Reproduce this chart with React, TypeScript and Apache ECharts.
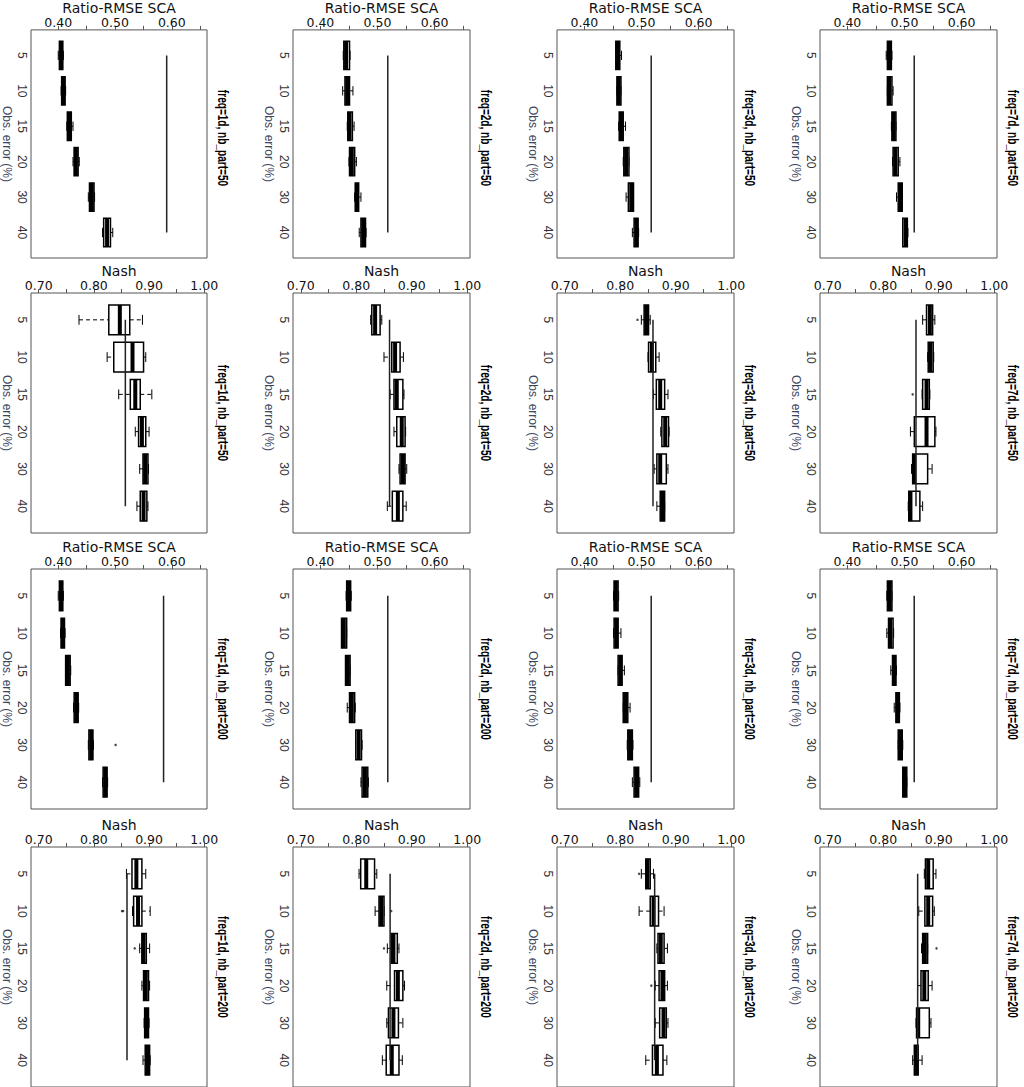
import React, { useEffect, useRef } from "react";
import * as echarts from "echarts";

// ---------- data ----------
const obsErrors = ["5", "10", "15", "20", "30", "40"];
const freqs = ["1d", "2d", "3d", "7d"];
const nbParts = [50, 200];

const rmseTicks = [0.4, 0.45, 0.5, 0.55, 0.6, 0.65];
const rmseTickLabels = [0.4, 0.5, 0.6];
const nashTicks = [0.7, 0.75, 0.8, 0.85, 0.9, 0.95, 1.0];
const nashTickLabels = [0.7, 0.8, 0.9, 1.0];

// each row: [min, Q1, median, Q3, max] for Obs. error 5,10,15,20,30,40
const rmse50_1d = [[0.400, 0.402, 0.405, 0.408, 0.409], [0.405, 0.406, 0.409, 0.412, 0.413], [0.415, 0.416, 0.420, 0.423, 0.426], [0.426, 0.428, 0.431, 0.435, 0.437], [0.453, 0.455, 0.459, 0.463, 0.464], [0.478, 0.480, 0.486, 0.492, 0.496]];
const rmse50_2d = [[0.440, 0.441, 0.445, 0.451, 0.452], [0.439, 0.443, 0.447, 0.451, 0.457], [0.447, 0.448, 0.451, 0.456, 0.459], [0.450, 0.451, 0.455, 0.460, 0.463], [0.460, 0.461, 0.464, 0.467, 0.471], [0.468, 0.471, 0.475, 0.479, 0.480]];
const rmse50_3d = [[0.455, 0.455, 0.458, 0.462, 0.465], [0.457, 0.457, 0.460, 0.464, 0.464], [0.460, 0.461, 0.464, 0.468, 0.472], [0.468, 0.469, 0.473, 0.478, 0.478], [0.473, 0.477, 0.482, 0.486, 0.486], [0.484, 0.487, 0.491, 0.494, 0.495]];
const rmse50_7d = [[0.468, 0.470, 0.474, 0.477, 0.478], [0.470, 0.470, 0.473, 0.478, 0.480], [0.477, 0.478, 0.481, 0.485, 0.485], [0.479, 0.480, 0.484, 0.489, 0.492], [0.486, 0.489, 0.493, 0.496, 0.496], [0.497, 0.497, 0.502, 0.505, 0.506]];
const rmseRef50 = [0.591, 0.518, 0.517, 0.517];

const nash50_1d = [[0.773, 0.827, 0.847, 0.865, 0.888], [0.824, 0.836, 0.870, 0.890, 0.894], [0.845, 0.866, 0.875, 0.884, 0.905], [0.875, 0.881, 0.887, 0.894, 0.900], [0.883, 0.889, 0.893, 0.898, 0.899], [0.878, 0.884, 0.890, 0.896, 0.898]];
const nash50_2d = [[0.826, 0.828, 0.834, 0.843, 0.846], [0.850, 0.864, 0.870, 0.879, 0.885], [0.861, 0.868, 0.873, 0.884, 0.886], [0.868, 0.873, 0.882, 0.888, 0.889], [0.877, 0.879, 0.884, 0.888, 0.891], [0.856, 0.865, 0.875, 0.884, 0.890]];
const nash50_3d = [[0.838, 0.843, 0.847, 0.851, 0.854], [0.850, 0.851, 0.857, 0.864, 0.870], [0.860, 0.865, 0.872, 0.880, 0.886], [0.873, 0.875, 0.881, 0.887, 0.888], [0.861, 0.866, 0.872, 0.883, 0.886], [0.866, 0.872, 0.876, 0.880, 0.880]];
const nash50_7d = [[0.871, 0.878, 0.884, 0.889, 0.893], [0.880, 0.881, 0.885, 0.890, 0.891], [0.870, 0.871, 0.878, 0.883, 0.884], [0.849, 0.856, 0.878, 0.893, 0.895], [0.851, 0.853, 0.856, 0.880, 0.888], [0.845, 0.846, 0.849, 0.866, 0.871]];
const nashRef50 = [0.857, 0.860, 0.859, 0.859];

const rmse200_1d = [[0.400, 0.402, 0.405, 0.408, 0.409], [0.404, 0.405, 0.408, 0.411, 0.412], [0.413, 0.413, 0.417, 0.421, 0.422], [0.427, 0.428, 0.432, 0.435, 0.436], [0.453, 0.454, 0.458, 0.461, 0.462], [0.478, 0.479, 0.483, 0.486, 0.487]];
const rmse200_2d = [[0.445, 0.446, 0.449, 0.453, 0.454], [0.437, 0.437, 0.441, 0.446, 0.446], [0.444, 0.444, 0.448, 0.452, 0.452], [0.447, 0.451, 0.455, 0.460, 0.461], [0.462, 0.462, 0.467, 0.472, 0.473], [0.471, 0.473, 0.478, 0.483, 0.484]];
const rmse200_3d = [[0.451, 0.452, 0.455, 0.459, 0.460], [0.451, 0.452, 0.456, 0.459, 0.464], [0.459, 0.459, 0.463, 0.466, 0.470], [0.468, 0.468, 0.472, 0.476, 0.480], [0.475, 0.476, 0.480, 0.484, 0.485], [0.484, 0.487, 0.491, 0.495, 0.497]];
const rmse200_7d = [[0.469, 0.470, 0.474, 0.478, 0.478], [0.469, 0.472, 0.475, 0.480, 0.481], [0.476, 0.479, 0.482, 0.485, 0.486], [0.482, 0.485, 0.488, 0.491, 0.492], [0.489, 0.489, 0.493, 0.496, 0.497], [0.497, 0.497, 0.500, 0.504, 0.504]];
const rmseRef200 = [0.5855, 0.518, 0.517, 0.517];

const nash200_1d = [[0.859, 0.869, 0.877, 0.887, 0.894], [0.870, 0.872, 0.880, 0.887, 0.902], [0.883, 0.887, 0.890, 0.895, 0.901], [0.887, 0.890, 0.894, 0.899, 0.901], [0.891, 0.892, 0.895, 0.899, 0.900], [0.889, 0.893, 0.897, 0.901, 0.902]];
const nash200_2d = [[0.805, 0.808, 0.818, 0.833, 0.837], [0.834, 0.841, 0.845, 0.850, 0.850], [0.856, 0.863, 0.867, 0.874, 0.877], [0.855, 0.869, 0.875, 0.884, 0.887], [0.855, 0.858, 0.867, 0.876, 0.884], [0.847, 0.854, 0.864, 0.877, 0.883]];
const nash200_3d = [[0.838, 0.846, 0.849, 0.854, 0.860], [0.834, 0.854, 0.860, 0.869, 0.879], [0.866, 0.868, 0.873, 0.879, 0.885], [0.863, 0.870, 0.876, 0.880, 0.885], [0.863, 0.871, 0.878, 0.883, 0.886], [0.846, 0.858, 0.866, 0.877, 0.884]];
const nash200_7d = [[0.874, 0.876, 0.881, 0.890, 0.895], [0.864, 0.875, 0.881, 0.889, 0.892], [0.869, 0.871, 0.875, 0.880, 0.880], [0.862, 0.868, 0.874, 0.881, 0.888], [0.859, 0.860, 0.863, 0.883, 0.886], [0.853, 0.856, 0.859, 0.863, 0.870]];
const nashRef200 = [0.860, 0.861, 0.862, 0.862];

// outliers: [value, obs-error index (1-based)]
const out_nash50_3d = [[0.831, 1]];
const out_nash50_7d = [[0.853, 3]];
const out_rmse200_1d = [[0.501, 5]];
const out_nash200_1d = [[0.851, 2], [0.853, 2], [0.874, 3]];
const out_nash200_2d = [[0.863, 2], [0.850, 3]];
const out_nash200_3d = [[0.834, 1], [0.856, 4]];
const out_nash200_7d = [[0.896, 3]];

// ---------- layout / style ----------
const colLefts = [30, 293, 557, 820];
const rowTops = [18, 293, 569, 847];
const PW = 177;
const PH = 240;
const NARROW = '"Liberation Sans Narrow", "Liberation Sans", Arial, sans-serif';
const WIDE = '"DejaVu Sans", Verdana, sans-serif';

const rows = [
  { metric: "rmse", part: nbParts[0], boxes: [rmse50_1d, rmse50_2d, rmse50_3d, rmse50_7d], refs: rmseRef50, outs: [[], [], [], []] },
  { metric: "nash", part: nbParts[0], boxes: [nash50_1d, nash50_2d, nash50_3d, nash50_7d], refs: nashRef50, outs: [[], [], out_nash50_3d, out_nash50_7d] },
  { metric: "rmse", part: nbParts[1], boxes: [rmse200_1d, rmse200_2d, rmse200_3d, rmse200_7d], refs: rmseRef200, outs: [out_rmse200_1d, [], [], []] },
  { metric: "nash", part: nbParts[1], boxes: [nash200_1d, nash200_2d, nash200_3d, nash200_7d], refs: nashRef200, outs: [out_nash200_1d, out_nash200_2d, out_nash200_3d, out_nash200_7d] },
];

function renderBox(params: any, api: any) {
  const y = api.value(0);
  const lo = api.value(1), q1 = api.value(2), med = api.value(3), q3 = api.value(4), hi = api.value(5);
  const bh = api.size([0, 1])[1] * 0.8;
  const cap = bh * 0.33;
  const pLo = api.coord([lo, y]);
  const pQ1 = api.coord([q1, y]);
  const pMed = api.coord([med, y]);
  const pQ3 = api.coord([q3, y]);
  const pHi = api.coord([hi, y]);
  const cy = pLo[1];
  const ls = { stroke: "#000", lineWidth: 1 };
  return {
    type: "group",
    children: [
      { type: "line", shape: { x1: pLo[0], y1: cy, x2: pQ1[0], y2: cy }, style: { ...ls, lineDash: [4, 3] } },
      { type: "line", shape: { x1: pQ3[0], y1: cy, x2: pHi[0], y2: cy }, style: { ...ls, lineDash: [4, 3] } },
      { type: "line", shape: { x1: pLo[0], y1: cy - cap / 2, x2: pLo[0], y2: cy + cap / 2 }, style: ls },
      { type: "line", shape: { x1: pHi[0], y1: cy - cap / 2, x2: pHi[0], y2: cy + cap / 2 }, style: ls },
      { type: "rect", shape: { x: pQ1[0], y: cy - bh / 2, width: pQ3[0] - pQ1[0], height: bh }, style: { fill: "#fff", stroke: "#000", lineWidth: 1.5 } },
      { type: "rect", shape: { x: pMed[0] - 2, y: cy - bh / 2, width: 4, height: bh }, style: { fill: "#000" } },
    ],
  };
}

function buildOption() {
  const grid: any[] = [];
  const xAxis: any[] = [];
  const yAxis: any[] = [];
  const series: any[] = [];
  const graphic: any[] = [];
  rows.forEach((row, r) => {
    freqs.forEach((f, c) => {
      const idx = r * 4 + c;
      const isR = row.metric === "rmse";
      grid.push({ left: colLefts[c], top: rowTops[r], width: PW, height: PH, show: true, borderColor: "#555", borderWidth: 1, backgroundColor: "transparent" });
      xAxis.push({
        gridIndex: idx,
        type: "value",
        position: "top",
        min: isR ? 0.352 : 0.686,
        max: isR ? 0.662 : 1.005,
        axisLine: { show: false },
        splitLine: { show: false },
        axisTick: { show: true, length: 4, customValues: isR ? rmseTicks : nashTicks, lineStyle: { color: "#555" } },
        axisLabel: { customValues: isR ? rmseTickLabels : nashTickLabels, formatter: (v: number) => v.toFixed(2), margin: 1, fontSize: 12.5, fontFamily: WIDE, color: "#111" },
        name: isR ? "Ratio-RMSE SCA" : "Nash",
        nameLocation: "middle",
        nameGap: 3,
        nameTextStyle: { fontSize: 14, fontFamily: WIDE, color: "#111" },
      });
      yAxis.push({
        gridIndex: idx,
        type: "value",
        min: 0.28,
        max: 6.72,
        inverse: true,
        axisLine: { show: false },
        splitLine: { show: false },
        axisTick: { show: false },
        axisLabel: { customValues: [1, 2, 3, 4, 5, 6], formatter: (v: number) => obsErrors[Math.round(v) - 1], rotate: -90, margin: 3, fontSize: 12, fontFamily: NARROW, color: "#333" },
        name: "Obs. error (%)",
        nameLocation: "middle",
        nameRotate: -90,
        nameGap: 18,
        nameTextStyle: { fontSize: 12, fontFamily: NARROW, color: "#3a4560" },
      });
      series.push({
        type: "custom",
        xAxisIndex: idx,
        yAxisIndex: idx,
        renderItem: renderBox,
        encode: { x: [1, 2, 3, 4, 5], y: 0 },
        data: row.boxes[c].map((d, i) => [i + 1, ...d]),
        z: 3,
      });
      series.push({
        type: "line",
        xAxisIndex: idx,
        yAxisIndex: idx,
        symbol: "none",
        lineStyle: { color: "#222", width: 1.5 },
        data: [[row.refs[c], 1], [row.refs[c], obsErrors.length]],
        z: 4,
      });
      if (row.outs[c].length) {
        series.push({
          type: "scatter",
          xAxisIndex: idx,
          yAxisIndex: idx,
          symbol: "circle",
          symbolSize: 2.5,
          itemStyle: { color: "#222" },
          data: row.outs[c],
          z: 5,
        });
      }
      graphic.push({
        type: "text",
        x: colLefts[c] + PW + 16,
        y: rowTops[r] + PH / 2,
        rotation: -Math.PI / 2,
        scaleX: 0.72,
        style: {
          text: `freq=${f}, nb_part=${row.part}`,
          fontSize: 14,
          fontWeight: "bold",
          fontFamily: '"Liberation Sans", Arial, sans-serif',
          fill: "#000",
          align: "center",
          verticalAlign: "middle",
        },
      });
    });
  });
  return { animation: false, backgroundColor: "#fff", grid, xAxis, yAxis, series, graphic };
}

export default function App() {
  const ref = useRef<HTMLDivElement>(null);
  useEffect(() => {
    if (!ref.current) return;
    const chart = echarts.init(ref.current, undefined, { renderer: "svg" });
    chart.setOption(buildOption() as any);
    return () => chart.dispose();
  }, []);
  return <div ref={ref} style={{ position: "absolute", left: 0, top: 0, width: 1024, height: 1087, background: "#fff" }} />;
}
